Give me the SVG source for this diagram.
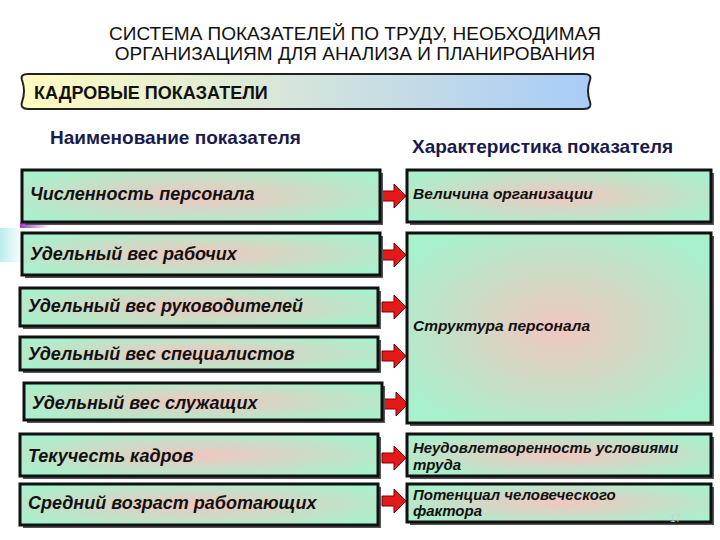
<svg xmlns="http://www.w3.org/2000/svg" width="720" height="540" viewBox="0 0 720 540">
<style>
.t{font-family:"Liberation Sans",Arial,sans-serif;font-weight:bold;fill:#111}
.ti{font-family:"Liberation Sans",Arial,sans-serif;font-weight:bold;font-style:italic;font-size:18px;fill:#111}
.ts{font-size:15px}
.h{font-family:"Liberation Sans",Arial,sans-serif;font-weight:bold;font-size:19px;fill:#1a1a4e}
.box{fill:url(#g);stroke:#111;stroke-width:3}
.sh{fill:#555}
.arr{fill:#e41a1a;stroke:#7a0000;stroke-width:1}
</style>
<defs>
<radialGradient id="g" cx="0.5" cy="0.5" r="0.6"><stop offset="0" stop-color="#f2c6c0"/><stop offset="1" stop-color="#a9f0cc"/></radialGradient>
<linearGradient id="b" x1="0" y1="0" x2="1" y2="0"><stop offset="0" stop-color="#fffcc0"/><stop offset="1" stop-color="#a8ccf8"/></linearGradient>
<linearGradient id="p" x1="0" y1="0" x2="1" y2="0"><stop offset="0" stop-color="#9a3fc8"/><stop offset="1" stop-color="#9a3fc8" stop-opacity="0"/></linearGradient>
<linearGradient id="c" x1="0" y1="0" x2="1" y2="0"><stop offset="0" stop-color="#b8ecec"/><stop offset="1" stop-color="#d8f4f4" stop-opacity="0"/></linearGradient>
</defs>
<rect width="720" height="540" fill="#fff"/>
<text font-family="Liberation Sans,Arial,sans-serif" font-size="19" fill="#111" x="355" y="40" text-anchor="middle">СИСТЕМА ПОКАЗАТЕЛЕЙ ПО ТРУДУ, НЕОБХОДИМАЯ</text>
<text font-family="Liberation Sans,Arial,sans-serif" font-size="19" fill="#111" x="355" y="60" text-anchor="middle">ОРГАНИЗАЦИЯМ ДЛЯ АНАЛИЗА И ПЛАНИРОВАНИЯ</text>
<g id="banner">
<path d="M28 74 H584 Q592 74 590 80 Q586 91 590 102 Q592 109 584 109 H28 Q20 109 22 102 Q26 91 22 80 Q20 74 28 74 Z" fill="url(#b)" stroke="#222" stroke-width="2"/>
<text class="t" font-size="18" x="34" y="99">КАДРОВЫЕ ПОКАЗАТЕЛИ</text>
</g>
<text class="h" x="50" y="144">Наименование показателя</text>
<text class="h" x="412" y="153">Характеристика показателя</text>
<rect x="20" y="223" width="30" height="5" fill="url(#p)"/>
<rect x="0" y="228" width="28" height="34" fill="url(#c)"/>
<g id="connectors">
<path class="arr" d="M382 191 H394 V184 L406 196 L394 208 V201 H382 Z"/>
<path class="arr" d="M382 250 H394 V243 L406 255 L394 267 V260 H382 Z"/>
<path class="arr" d="M382 302 H394 V295 L406 307 L394 319 V312 H382 Z"/>
<path class="arr" d="M382 351 H394 V344 L406 356 L394 368 V361 H382 Z"/>
<path class="arr" d="M384 399 H396 V392 L408 404 L396 416 V409 H384 Z"/>
<path class="arr" d="M382 453 H394 V446 L406 458 L394 470 V463 H382 Z"/>
<path class="arr" d="M382 496 H394 V489 L406 501 L394 513 V506 H382 Z"/>
</g>
<g id="n1"><rect class="sh" x="25" y="173" width="358" height="52"/><rect class="box" x="22" y="170" width="358" height="52"/><text class="ti" x="30" y="200">Численность персонала</text></g>
<g id="n2"><rect class="sh" x="25" y="236" width="358" height="42"/><rect class="box" x="22" y="233" width="358" height="42"/><text class="ti" x="30" y="260">Удельный вес рабочих</text></g>
<g id="n3"><rect class="sh" x="23" y="291" width="358" height="38"/><rect class="box" x="20" y="288" width="358" height="38"/><text class="ti" x="28" y="312">Удельный вес руководителей</text></g>
<g id="n4"><rect class="sh" x="23" y="340" width="358" height="33"/><rect class="box" x="20" y="337" width="358" height="33"/><text class="ti" x="28" y="360">Удельный вес специалистов</text></g>
<g id="n5"><rect class="sh" x="27" y="386" width="358" height="37"/><rect class="box" x="24" y="383" width="358" height="37"/><text class="ti" x="32" y="409">Удельный вес служащих</text></g>
<g id="n6"><rect class="sh" x="23" y="437" width="358" height="42"/><rect class="box" x="20" y="434" width="358" height="42"/><text class="ti" x="28" y="462">Текучесть кадров</text></g>
<g id="n7"><rect class="sh" x="23" y="487" width="358" height="41"/><rect class="box" x="20" y="484" width="358" height="41"/><text class="ti" x="28" y="509">Средний возраст работающих</text></g>
<g id="r1"><rect class="sh" x="410" y="173" width="304" height="52"/><rect class="box" x="407" y="170" width="304" height="52"/><text class="ti" x="413" y="199" style="font-size:15.5px">Величина организации</text></g>
<g id="r2"><rect class="sh" x="410" y="236" width="304" height="190"/><rect class="box" x="407" y="233" width="304" height="190"/><text class="ti" x="413" y="331" style="font-size:15.5px">Структура персонала</text></g>
<g id="r3"><rect class="sh" x="410" y="437" width="304" height="42"/><rect class="box" x="407" y="434" width="304" height="42"/><text class="ti ts" x="413" y="453">Неудовлетворенность условиями</text><text class="ti ts" x="413" y="470">труда</text></g>
<g id="r4"><rect class="sh" x="410" y="487" width="304" height="38"/><rect class="box" x="407" y="484" width="304" height="38"/><text class="ti ts" x="413" y="500">Потенциал человеческого</text><text class="ti ts" x="413" y="516">фактора</text></g>
<text x="670" y="522" font-family="Liberation Sans,sans-serif" font-size="10" fill="#ccc">17</text>
</svg>
